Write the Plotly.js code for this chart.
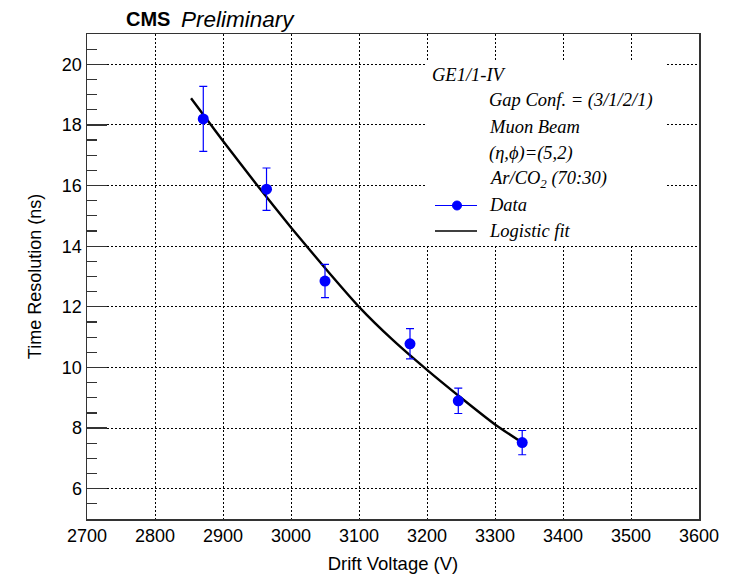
<!DOCTYPE html>
<html>
<head>
<meta charset="utf-8">
<script src="https://cdn.plot.ly/plotly-3.0.1.min.js"></script>
<style>html,body{margin:0;padding:0;background:#fff;}#chart{width:738px;height:574px;}</style>
</head>
<body>
<div id="chart"></div>
<script>
// Data points (drift voltage in V, time resolution in ns)
const voltage = [2871, 2964, 3050, 3175, 3246, 3340];
const resolution = [18.2, 15.88, 12.85, 10.78, 8.9, 7.52];
const resolutionErr = [1.07, 0.7, 0.55, 0.5, 0.42, 0.4];

// Logistic fit curve
const fitVoltage = [2853, 2900, 2950, 3000, 3050, 3100, 3150, 3200, 3250, 3300, 3346];
const fitResolution = [18.88, 17.47, 16.02, 14.62, 13.28, 12.0, 10.9, 9.92, 9.0, 8.12, 7.43];

const infoLines = ["GE1/1-IV", "Gap Conf. = (3/1/2/1)", "Muon Beam", "(η,ϕ)=(5,2)", "Ar/CO<sub>2</sub> (70:30)"];
const legendLabels = ["Data", "Logistic fit"];

const W = 738, H = 574;
const M = {l: 87, r: 39, t: 34, b: 55};
const pw = W - M.l - M.r, ph = H - M.t - M.b;
const px = x => (x - M.l) / pw;
const py = y => (H - M.b - y) / ph;

const serif = "Liberation Serif, Times New Roman, serif";
const sans = "Liberation Sans, Arial, Helvetica, sans-serif";

const traces = [
  {
    x: fitVoltage, y: fitResolution, mode: "lines", type: "scatter",
    line: {color: "#000", width: 2.4, shape: "spline", smoothing: 0.5}, hoverinfo: "skip", showlegend: false
  },
  {
    x: voltage, y: resolution, mode: "markers", type: "scatter",
    marker: {color: "#0000ff", size: 11, symbol: "circle"},
    error_y: {type: "data", array: resolutionErr, visible: true, color: "#0000ff", thickness: 1.2, width: 4},
    showlegend: false
  }
];

const annotations = [];
// CMS Preliminary
annotations.push({xref: "paper", yref: "paper", x: px(124), y: py(19), xanchor: "left", yanchor: "middle",
  text: "<b>CMS</b>", showarrow: false, font: {family: sans, size: 20, color: "#000"}});
annotations.push({xref: "paper", yref: "paper", x: px(179), y: py(19), xanchor: "left", yanchor: "middle",
  text: "<i>Preliminary</i>", showarrow: false, font: {family: sans, size: 22.5, color: "#000"}});

const infoX = [430, 487, 487, 487, 487];
const infoY = [75, 101, 127, 153, 179];
infoLines.forEach((t, i) => {
  annotations.push({xref: "paper", yref: "paper", x: px(infoX[i]), y: py(infoY[i]), xanchor: "left", yanchor: "middle",
    text: "<i>" + t + "</i>", showarrow: false, font: {family: serif, size: 18.5, color: "#000"}});
});
const legY = [205, 231];
legendLabels.forEach((t, i) => {
  annotations.push({xref: "paper", yref: "paper", x: px(487), y: py(legY[i]), xanchor: "left", yanchor: "middle",
    text: "<i>" + t + "</i>", showarrow: false, font: {family: serif, size: 18.5, color: "#000"}});
});

const shapes = [
  // white legend box (no border) covering the grid, as in the reference
  {type: "rect", xref: "paper", yref: "paper", layer: "above", x0: px(427), x1: px(666), y0: py(244), y1: py(62),
    fillcolor: "#fff", line: {width: 0}},
  {type: "line", xref: "paper", yref: "paper", layer: "above", x0: px(435), x1: px(477), y0: py(205.5), y1: py(205.5), line: {color: "#0000ff", width: 1.2}},
  {type: "circle", xref: "paper", yref: "paper", layer: "above", x0: px(452.5), x1: px(461.5), y0: py(210), y1: py(201), fillcolor: "#0000ff", line: {color: "#0000ff", width: 1}},
  {type: "line", xref: "paper", yref: "paper", layer: "above", x0: px(435), x1: px(477), y0: py(231), y1: py(231), line: {color: "#000", width: 1.5}}
];

const layout = {
  width: W, height: H,
  margin: M,
  paper_bgcolor: "#fff", plot_bgcolor: "#fff",
  showlegend: false,
  font: {family: sans, size: 18, color: "#000"},
  xaxis: {
    range: [2700, 3600], tick0: 2700, dtick: 100, tickmode: "linear",
    showgrid: true, gridcolor: "#000", gridwidth: 1, griddash: "2px,2px",
    zeroline: false, showline: true, linecolor: "#333", linewidth: 1.5, mirror: true,
    ticks: "", tickfont: {family: sans, size: 18, color: "#000"},
    title: {text: "Drift Voltage (V)", font: {family: sans, size: 18.5, color: "#000"}}
  },
  yaxis: {
    range: [5, 21], tickmode: "array", tickvals: [6, 8, 10, 12, 14, 16, 18, 20],
    showgrid: true, gridcolor: "#000", gridwidth: 1, griddash: "2px,2px",
    zeroline: false, showline: true, linecolor: "#333", linewidth: 1.5, mirror: true,
    ticks: "inside", ticklen: 20, tickwidth: 1.2, tickcolor: "#333",
    minor: {dtick: 0.5, tick0: 5, ticks: "inside", ticklen: 10, tickwidth: 1.2, tickcolor: "#333", showgrid: false},
    tickfont: {family: sans, size: 18, color: "#000"},
    title: {text: "Time Resolution (ns)", font: {family: sans, size: 18, color: "#000"}}
  },
  annotations: annotations,
  shapes: shapes
};

Plotly.newPlot("chart", traces, layout, {displayModeBar: false, staticPlot: true});
</script>
</body>
</html>
